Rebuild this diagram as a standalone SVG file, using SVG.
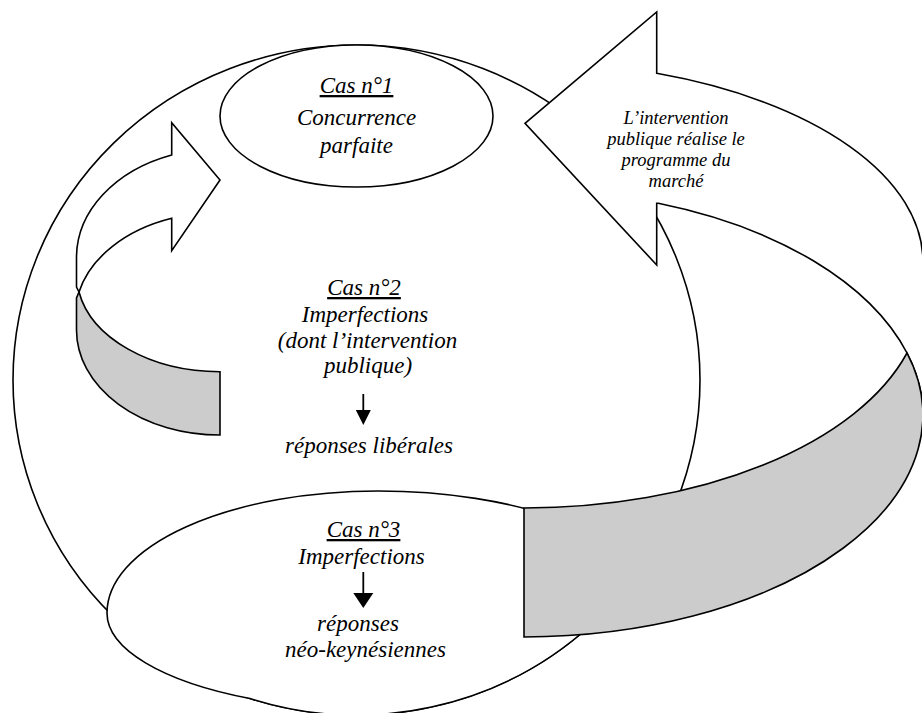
<svg xmlns="http://www.w3.org/2000/svg" width="922" height="713" viewBox="0 0 922 713">
<style>
.ol{stroke:#000;stroke-width:1.6;fill:#fff;stroke-linejoin:miter}
.gr{stroke:#000;stroke-width:1.6;fill:#cccccc}
.t{font-family:"Liberation Serif","Times New Roman",serif;font-style:italic;font-size:23px;fill:#000;text-anchor:middle}
.s{font-size:18.5px}
.u{text-decoration:underline}
.ar{stroke:#000;stroke-width:1.8;fill:none}
.ah{fill:#000;stroke:none}
</style>
<rect width="922" height="713" fill="#fff"/>
<g id="frame">
<ellipse cx="356.5" cy="380" rx="343.5" ry="335" class="ol"/>
</g>
<g id="cas1">
<ellipse cx="356.5" cy="116" rx="136.5" ry="71" class="ol"/>
<text class="t u" x="356.5" y="93">Cas n°1</text>
<text class="t" x="356.5" y="125">Concurrence</text>
<text class="t" x="356.5" y="152.5">parfaite</text>
</g>
<g id="cas3">
<path class="ol" d="M107 613 A271 122 0 0 1 378 491 A271 110 0 0 1 560 519.5 L605 600 L592 624 A343.5 335 0 0 1 250 698.5 A271 97 0 0 1 107 613 Z"/>
</g>
<g id="connectors">
<g id="arrow-left">
<path class="ol" d="M171.7 155 A143.3 109 0 0 0 76.5 257.6 L76.5 287 L79 292 A143.3 102.8 0 0 1 171.7 218.3 L171.7 250.7 L220 180 L171.7 122.7 Z"/>
<path class="gr" d="M220 371.7 A143.3 97 0 0 1 79 292 L76.5 298 L76.5 330 A143.3 105 0 0 0 220 435 Z"/>
</g>
<g id="arrow-right">
<path class="ol" d="M656.7 73.3 A399 200 0 0 1 923 261.7 L923 415 A399 222 0 0 0 907 353 A398 229 0 0 0 658.3 203.3 L656.7 203.3 L656.7 265 L525 123.3 L656.7 12 Z"/>
<path class="gr" d="M524 508 A399 216 0 0 0 907 353 A399 222 0 0 1 524 637 Z"/>
</g>
<g id="arrow-cas2">
<line class="ar" x1="363.3" y1="394" x2="363.3" y2="411"/>
<polygon class="ah" points="355.8,410 370.8,410 363.3,425"/>
</g>
<g id="arrow-cas3">
<line class="ar" x1="363.3" y1="572" x2="363.3" y2="594"/>
<polygon class="ah" points="353.3,593 373.3,593 363.3,608"/>
</g>
</g>
<g id="cas2">
<text class="t u" x="364" y="295">Cas n°2</text>
<text class="t" x="365" y="322">Imperfections</text>
<text class="t" x="367.5" y="348">(dont l’intervention</text>
<text class="t" x="368" y="373">publique)</text>
<text class="t" x="369" y="453">réponses libérales</text>
</g>
<g id="cas3-text">
<text class="t u" x="363.5" y="537">Cas n°3</text>
<text class="t" x="361.5" y="564">Imperfections</text>
<text class="t" x="358" y="631">réponses</text>
<text class="t" x="365.5" y="657">néo-keynésiennes</text>
</g>
<g id="label-right">
<text class="t s" x="676" y="124">L’intervention</text>
<text class="t s" x="676" y="145">publique réalise le</text>
<text class="t s" x="676" y="166">programme du</text>
<text class="t s" x="676" y="187">marché</text>
</g>
</svg>
